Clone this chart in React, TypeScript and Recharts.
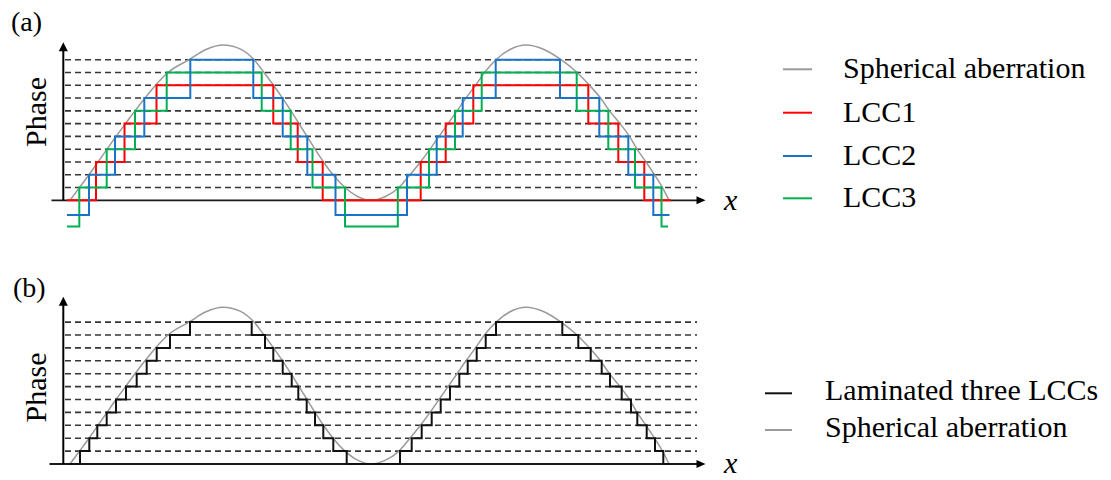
import React from 'react';
import { ComposedChart, Line, XAxis, YAxis, ReferenceLine, ReferenceDot } from 'recharts';

// Quantised phase levels drawn as dashed guide lines
const PHASE_LEVELS = [1, 2, 3, 4, 5, 6, 7, 8, 9, 10, 11];

// Spherical aberration phase profile (x position, phase in level units)
const aberrationX = [70, 79.5, 89, 98, 107, 116, 125.5, 135, 145, 155.5, 168, 189, 206, 223, 240, 254, 264, 273.5, 282.5, 291, 299, 307, 315, 323.5, 333, 345, 358, 371, 385, 399, 410, 420.5, 430, 439, 448, 457, 466, 475.5, 484.5, 496, 510, 526, 544, 561, 577, 589.5, 600.5, 609.5, 620, 629.5, 637, 646, 654.5, 662.5, 669];
const aberrationPhase = [0, 1, 2, 3, 4, 5, 6, 7, 8, 9, 10, 11, 11.8, 12.15, 11.85, 11, 10, 9, 8, 7, 6, 5, 4, 3, 2, 1, 0.28, 0, 0.28, 1, 2, 3, 4, 5, 6, 7, 8, 9, 10, 11, 11.8, 12.15, 11.8, 11, 10, 9, 8, 7, 6, 5, 4, 3, 2, 1, 0];

// LCC1: levels 0 / 3 / 6 / 9
const lcc1X = [67, 96, 124.5, 156.5, 273.3, 297.7, 322.7, 420.7, 445.7, 473.3, 588.3, 618.3, 644.3, 671];
const lcc1Phase = [0, 3, 6, 9, 6, 3, 0, 3, 6, 9, 6, 3, 0, 0];

// LCC2: levels -1 / 2 / 5 / 8 / 11
const lcc2X = [67, 89, 115, 144.3, 190.3, 253.3, 282.7, 307.3, 335.5, 407, 436.7, 462.7, 495.7, 560, 599.3, 628.3, 653.3, 669.5];
const lcc2Phase = [-1.15, 2, 5, 8, 11, 8, 5, 2, -1.15, 2, 5, 8, 11, 8, 5, 2, -1.15, -1.15];

// LCC3: levels -2 / 1 / 4 / 7 / 10
const lcc3X = [67, 79.3, 106.7, 135, 166.7, 261.7, 290.7, 312.5, 345, 397.8, 429, 455, 481.7, 576.7, 608.3, 635, 661.5, 668];
const lcc3Phase = [-2.05, 1, 4, 7, 10, 7, 4, 1, -2.05, 1, 4, 7, 10, 7, 4, 1, -2.05, -2.05];

// Laminated stack of the three LCCs: unit steps 0..11
const stackX = [68.3, 80, 89.3, 97.3, 106.7, 116, 126, 136.7, 146.7, 156.7, 170, 190, 251.7, 265, 273.3, 282.7, 291.7, 298.3, 306.7, 315, 323.3, 333.3, 346.7, 400, 411.7, 421.7, 431.7, 440.7, 450, 459.3, 467.7, 476.7, 485.7, 496, 562.3, 578.3, 590.7, 601.7, 610, 621.7, 631, 637.3, 646.7, 655, 663.3, 670];
const stackPhase = [0, 1, 2, 3, 4, 5, 6, 7, 8, 9, 10, 11, 10, 9, 8, 7, 6, 5, 4, 3, 2, 1, 0, 1, 2, 3, 4, 5, 6, 7, 8, 9, 10, 11, 10, 9, 8, 7, 6, 5, 4, 3, 2, 1, 0, 0];

const legendA = ['Spherical aberration', 'LCC1', 'LCC2', 'LCC3'];
const legendB = ['Laminated three LCCs', 'Spherical aberration'];

const COLORS = {
  aberration: '#9a9a9a',
  lcc1: '#ff0000',
  lcc2: '#1a73c4',
  lcc3: '#00b050',
  stack: '#111111',
  guide: '#363636',
  axis: '#1a1a1a',
};

const zip = (xs: number[], ys: number[]) => xs.map((x, i) => ({ x, phase: ys[i] }));

const aberration = zip(aberrationX, aberrationPhase);
const lcc1 = zip(lcc1X, lcc1Phase);
const lcc2 = zip(lcc2X, lcc2Phase);
const lcc3 = zip(lcc3X, lcc3Phase);
const stack = zip(stackX, stackPhase);

const CHART_W = 760;
const CHART_H = 240;
const SERIF = "'Liberation Serif', 'Times New Roman', serif";
const FONT_SIZE = 30;

const ArrowUp = (p: any) => (
  <path d={`M${p.cx},${p.cy} L${p.cx - 4.5},${p.cy + 9} L${p.cx + 4.5},${p.cy + 9} Z`} fill="#000" />
);
const ArrowRight = (p: any) => (
  <path d={`M${p.cx},${p.cy} L${p.cx - 9},${p.cy - 4} L${p.cx - 9},${p.cy + 4} Z`} fill="#000" />
);

type PanelProps = {
  base: number; // pixel row of phase 0 inside the chart
  unit: number; // pixels per phase level
  axisStart: number;
  arrowTop: number;
  children: React.ReactNode;
};

function Panel({ base, unit, axisStart, arrowTop, children }: PanelProps) {
  const domain: [number, number] = [(base - CHART_H) / unit, base / unit];
  return (
    <ComposedChart width={CHART_W} height={CHART_H} margin={{ top: 0, right: 0, bottom: 0, left: 0 }}>
      <XAxis type="number" dataKey="x" domain={[0, CHART_W]} hide allowDataOverflow />
      <YAxis type="number" domain={domain} hide allowDataOverflow />
      {PHASE_LEVELS.map((k) => (
        <ReferenceLine
          key={k}
          segment={[{ x: 65, y: k }, { x: 697, y: k }]}
          stroke={COLORS.guide}
          strokeWidth={1.6}
          strokeDasharray="6 4"
          ifOverflow="visible"
        />
      ))}
      <ReferenceLine segment={[{ x: axisStart, y: 0 }, { x: 699, y: 0 }]} stroke={COLORS.axis} strokeWidth={1.8} ifOverflow="visible" />
      <ReferenceLine segment={[{ x: 63.3, y: 0 }, { x: 63.3, y: arrowTop - 0.4 }]} stroke="#000" strokeWidth={2} ifOverflow="visible" />
      <ReferenceDot x={63.3} y={arrowTop} r={1} shape={ArrowUp} ifOverflow="visible" />
      <ReferenceDot x={705.5} y={0} r={1} shape={ArrowRight} ifOverflow="visible" />
      {children}
    </ComposedChart>
  );
}

const stepProps = { type: 'stepAfter' as const, strokeWidth: 2, dot: false, activeDot: false, isAnimationActive: false };

export default function App() {
  return (
    <div style={{ position: 'absolute', left: 0, top: 0, width: 1111, height: 480, background: '#fff' }}>
      <div style={{ position: 'absolute', left: 0, top: 0 }}>
        <Panel base={200.3} unit={12.78} axisStart={51.5} arrowTop={12.36}>
          <Line data={aberration} dataKey="phase" type="monotone" stroke={COLORS.aberration} strokeWidth={1.5} dot={false} activeDot={false} isAnimationActive={false} />
          <Line data={lcc1} dataKey="phase" stroke={COLORS.lcc1} {...stepProps} />
          <Line data={lcc3} dataKey="phase" stroke={COLORS.lcc3} {...stepProps} />
          <Line data={lcc2} dataKey="phase" stroke={COLORS.lcc2} {...stepProps} />
        </Panel>
      </div>
      <div style={{ position: 'absolute', left: 0, top: 240 }}>
        <Panel base={224} unit={12.9} axisStart={49.5} arrowTop={12.97}>
          <Line data={aberration} dataKey="phase" type="monotone" stroke={COLORS.aberration} strokeWidth={1.5} dot={false} activeDot={false} isAnimationActive={false} />
          <Line data={stack} dataKey="phase" stroke={COLORS.stack} {...stepProps} />
        </Panel>
      </div>
      <svg width={1111} height={480} style={{ position: 'absolute', left: 0, top: 0, pointerEvents: 'none' }}>
        <g fontFamily={SERIF} fontSize={FONT_SIZE} fill="#000">
          <text x={11} y={31} fontSize={28}>(a)</text>
          <text x={13} y={297} fontSize={28}>(b)</text>
          <text x={46} y={112} textAnchor="middle" transform="rotate(-90 46 112)">Phase</text>
          <text x={46} y={387.5} textAnchor="middle" transform="rotate(-90 46 387.5)">Phase</text>
          <text x={724} y={210} fontStyle="italic">x</text>
          <text x={724} y={473} fontStyle="italic">x</text>
          {legendA.map((name, i) => {
            const y = [69.3, 112.7, 156, 198.3][i];
            const color = [COLORS.aberration, COLORS.lcc1, COLORS.lcc2, COLORS.lcc3][i];
            return (
              <g key={name}>
                <line x1={783} x2={812} y1={y} y2={y} stroke={color} strokeWidth={2} />
                <text x={843} y={y + 9}>{name}</text>
              </g>
            );
          })}
          {legendB.map((name, i) => {
            const y = [393.3, 430][i];
            const color = [COLORS.stack, COLORS.aberration][i];
            return (
              <g key={name}>
                <line x1={765} x2={792} y1={y} y2={y} stroke={color} strokeWidth={2} />
                <text x={825} y={y + 6.5}>{name}</text>
              </g>
            );
          })}
        </g>
      </svg>
    </div>
  );
}
